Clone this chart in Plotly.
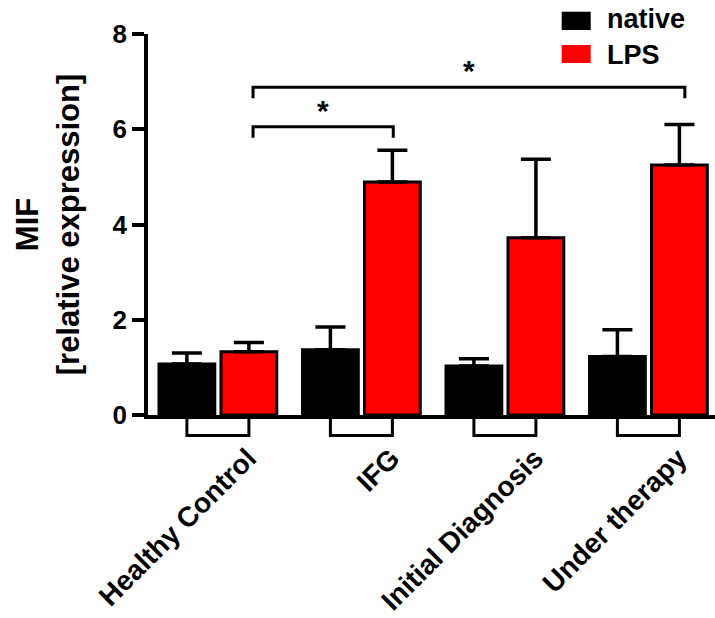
import plotly.graph_objects as go

# ---- data ----
categories = ["Healthy Control", "IFG", "Initial Diagnosis", "Under therapy"]
native_vals = [1.07, 1.37, 1.03, 1.23]
native_err = [0.23, 0.48, 0.15, 0.56]
lps_vals = [1.33, 4.89, 3.72, 5.25]
lps_err = [0.19, 0.67, 1.65, 0.85]
series_names = ["native", "LPS"]
series_colors = ["#000000", "#ff0000"]
y_ticks = [0, 2, 4, 6, 8]
# significance comparisons: (x start, x end, bracket height, label)
sig_x0 = [0.245, 0.245]
sig_x1 = [1.222, 3.254]
sig_y = [6.05, 6.88]
sig_label = ["*", "*"]

FONT = "Arial, 'Liberation Sans', sans-serif"
x_pos = list(range(len(categories)))
bargap = 0.136
half_off = (1 - bargap) / 4  # offset of each bar centre from group centre

fig = go.Figure()
for name, vals, err, col in [
    (series_names[0], native_vals, native_err, series_colors[0]),
    (series_names[1], lps_vals, lps_err, series_colors[1]),
]:
    fig.add_trace(go.Bar(
        x=x_pos, y=vals, name=name,
        marker=dict(color=col, line=dict(color="black", width=3)),
        error_y=dict(type="data", array=err, arrayminus=[0] * len(err),
                     symmetric=False, color="black", thickness=3.5, width=15),
        showlegend=False,
    ))

shapes = []
# group brackets under the x axis
for i in x_pos:
    shapes.append(dict(
        type="path", xref="x", yref="paper",
        path=f"M {i - half_off},0 L {i - half_off},-0.054 L {i + half_off},-0.054 L {i + half_off},0",
        line=dict(color="black", width=3),
    ))
# significance brackets
annotations = []
for a, b, h, lab in zip(sig_x0, sig_x1, sig_y, sig_label):
    shapes.append(dict(
        type="path", xref="x", yref="y",
        path=f"M {a},{h - 0.23} L {a},{h} L {b},{h} L {b},{h - 0.23}",
        line=dict(color="black", width=3),
    ))
    annotations.append(dict(
        x=(a + b) / 2, y=h, xref="x", yref="y", text=lab, showarrow=False,
        yanchor="bottom", yshift=-2,
        font=dict(family=FONT, size=30, color="black", weight="bold"),
    ))

# manual legend (large swatches as in the reference)
leg_y = [(1.0585, 1.0105), (0.9711, 0.9239)]
leg_text_y = [1.040, 0.945]
for (y0, y1), ty, name, col in zip(leg_y, leg_text_y, series_names, series_colors):
    shapes.append(dict(type="rect", xref="paper", yref="paper",
                       x0=0.7296, x1=0.7808, y0=y1, y1=y0,
                       fillcolor=col, line=dict(width=0)))
    annotations.append(dict(
        x=0.806, y=ty, xref="paper", yref="paper", text=name, showarrow=False,
        xanchor="left", yanchor="middle",
        font=dict(family=FONT, size=27, color="black", weight="bold"),
    ))

fig.update_layout(
    template="none",
    width=715, height=618,
    margin=dict(l=148, r=0, t=34, b=203, autoexpand=False),
    paper_bgcolor="white", plot_bgcolor="white",
    barmode="group", bargap=bargap, bargroupgap=0.1,
    shapes=shapes, annotations=annotations,
    font=dict(family=FONT, color="black"),
    showlegend=False,
)
fig.update_xaxes(
    automargin=False,
    range=[-0.487, 3.464],
    tickvals=[i + 0.21 for i in x_pos], ticktext=categories,
    tickangle=-45, ticks="", ticklabelstandoff=12,
    tickfont=dict(family=FONT, size=28, color="black", weight="bold"),
    showline=True, linecolor="black", linewidth=3.5,
    showgrid=False, zeroline=False,
)
fig.update_yaxes(
    automargin=False,
    range=[0, 8], tickvals=y_ticks,
    ticks="outside", ticklen=12, tickwidth=3.5, tickcolor="black",
    tickfont=dict(family=FONT, size=26, color="black", weight="bold"),
    showline=True, linecolor="black", linewidth=3.5,
    showgrid=False, zeroline=False,
    title=dict(text="MIF<br>[relative expression]", standoff=25,
               font=dict(family=FONT, size=31, color="black", weight="bold")),
)

fig.write_html("out.html", config={"displayModeBar": False},
               post_script="document.body.style.margin='0px';")
